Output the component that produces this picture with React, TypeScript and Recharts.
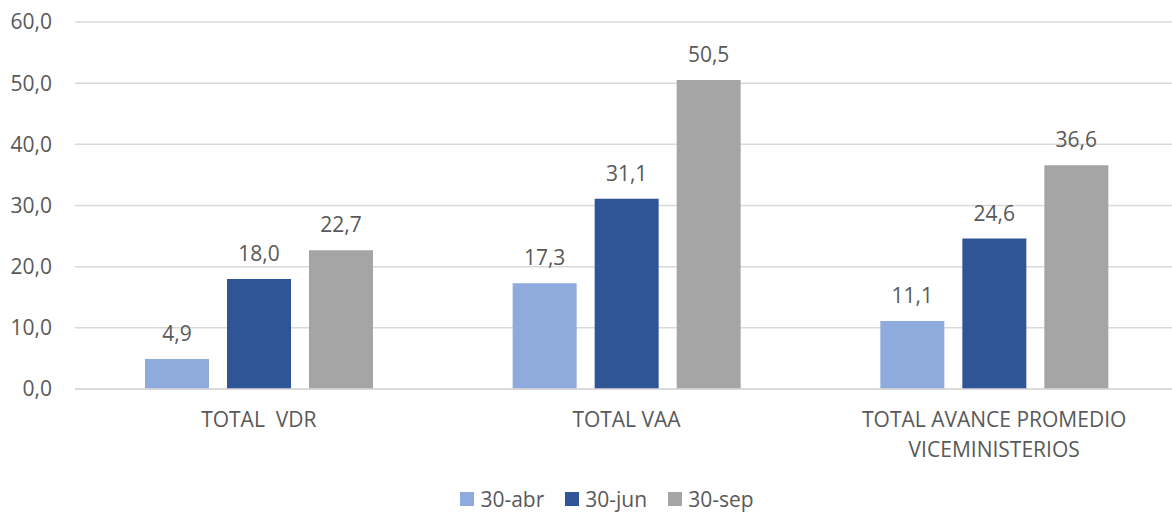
import React from 'react';
import { BarChart, Bar, XAxis, YAxis, CartesianGrid, Legend, LabelList, Text } from 'recharts';

const categories = ['TOTAL\u00A0 VDR', 'TOTAL VAA', 'TOTAL AVANCE PROMEDIO VICEMINISTERIOS'];
const abr = [4.9, 17.3, 11.1];
const jun = [18.0, 31.1, 24.6];
const sep = [22.7, 50.5, 36.6];
const yTicks = [0, 10, 20, 30, 40, 50, 60];

const seriesNames = ['30-abr', '30-jun', '30-sep'];
const colors = ['#8FAADC', '#2F5597', '#A5A5A5'];

const data = categories.map((c, i) => ({ name: c, abr: abr[i], jun: jun[i], sep: sep[i] }));

const FONT = '"Open Sans", sans-serif';
const TEXT = '#595959';
const fmt = (v: any) => Number(v).toFixed(1).replace('.', ',');

const CatTick = (props: any) => {
  const { x, y, payload } = props;
  return (
    <Text
      x={x}
      y={y}
      width={330}
      textAnchor="middle"
      verticalAnchor="start"
      lineHeight={30}
      fill={TEXT}
      fontSize={21}
      fontFamily={FONT}
    >
      {payload.value}
    </Text>
  );
};

const LegendContent = () => (
  <div style={{ display: 'flex', justifyContent: 'center', alignItems: 'center', height: 30, fontFamily: FONT, fontSize: 21, color: TEXT, paddingLeft: 36, marginTop: 2 }}>
    {seriesNames.map((n, i) => (
      <div key={n} style={{ display: 'flex', alignItems: 'center', marginRight: i < seriesNames.length - 1 ? 21 : 0 }}>
        <div style={{ width: 14, height: 14, background: colors[i], marginRight: 6 }} />
        <span style={{ lineHeight: '30px' }}>{n}</span>
      </div>
    ))}
  </div>
);

export default function App() {
  return (
    <div style={{ position: 'absolute', left: 0, top: 0, width: 1172, height: 514, background: '#fff', overflow: 'hidden' }}>
      <BarChart
        width={1172}
        height={514}
        data={data}
        margin={{ top: 22, right: -6, bottom: 0, left: 0 }}
        barCategoryGap={70}
        barGap={18}
      >
        <CartesianGrid vertical={false} stroke="#D9D9D9" strokeWidth={1.5} />
        <XAxis
          dataKey="name"
          axisLine={{ stroke: '#D9D9D9', strokeWidth: 1.5 }}
          tickLine={false}
          tickSize={0}
          tickMargin={23}
          height={93}
          interval={0}
          tick={<CatTick />}
        />
        <YAxis
          domain={[0, 60]}
          ticks={yTicks}
          width={75}
          axisLine={false}
          tickLine={false}
          tickSize={0}
          tickMargin={23}
          tickFormatter={fmt}
          tick={{ fill: TEXT, fontSize: 21, fontFamily: FONT }}
        />
        <Legend verticalAlign="bottom" align="center" content={<LegendContent />} />
        <Bar dataKey="abr" name={seriesNames[0]} fill={colors[0]} isAnimationActive={false}>
          <LabelList dataKey="abr" position="top" offset={18} formatter={fmt} fill={TEXT} fontSize={21} fontFamily={FONT} />
        </Bar>
        <Bar dataKey="jun" name={seriesNames[1]} fill={colors[1]} isAnimationActive={false}>
          <LabelList dataKey="jun" position="top" offset={18} formatter={fmt} fill={TEXT} fontSize={21} fontFamily={FONT} />
        </Bar>
        <Bar dataKey="sep" name={seriesNames[2]} fill={colors[2]} isAnimationActive={false}>
          <LabelList dataKey="sep" position="top" offset={18} formatter={fmt} fill={TEXT} fontSize={21} fontFamily={FONT} />
        </Bar>
      </BarChart>
    </div>
  );
}
